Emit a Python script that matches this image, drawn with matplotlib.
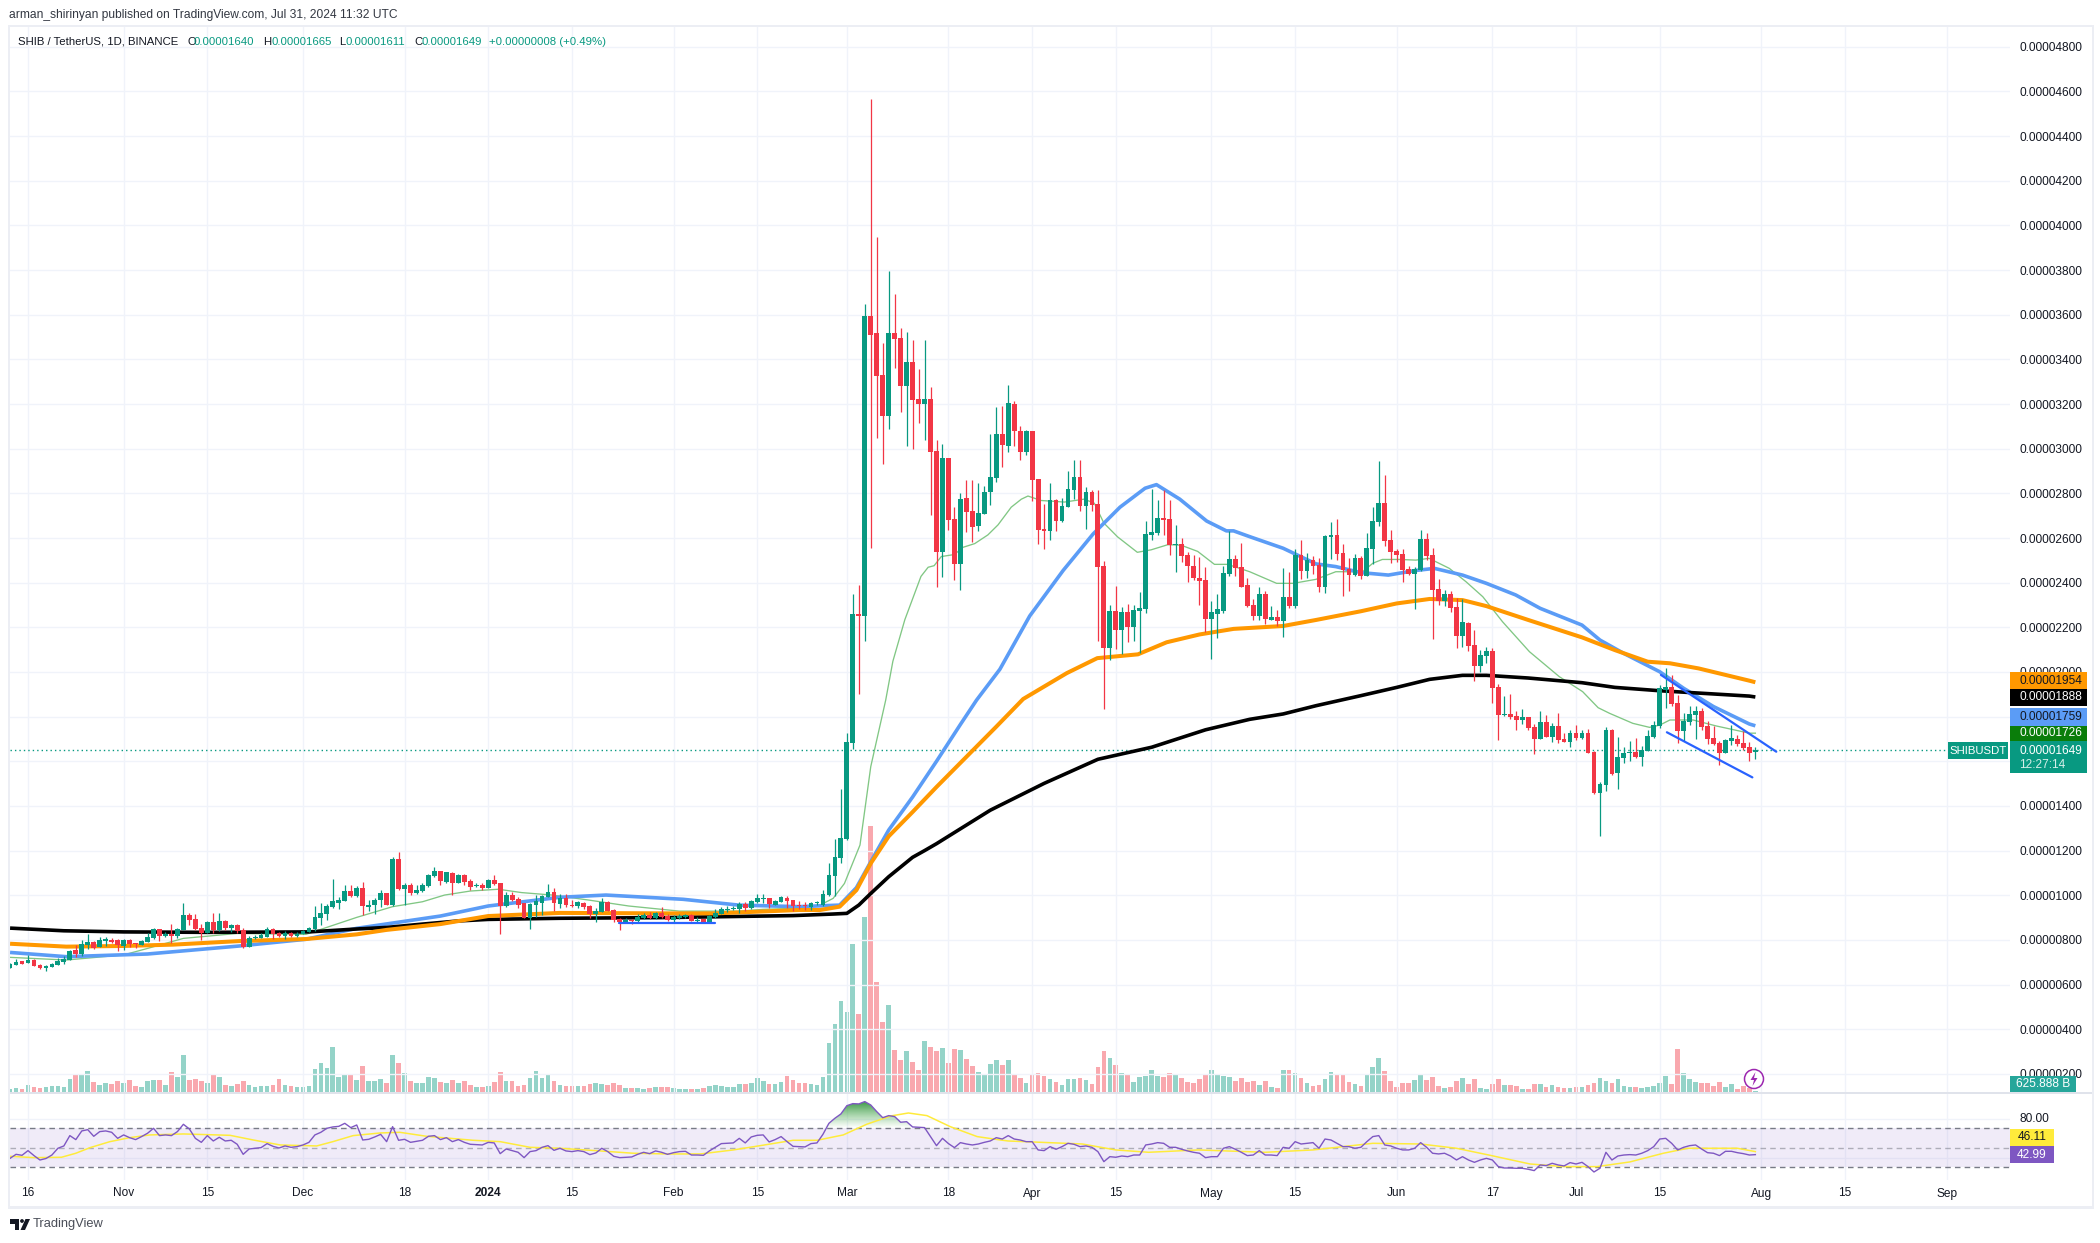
import numpy as np
import matplotlib
matplotlib.use("Agg")
import matplotlib.pyplot as plt
from matplotlib.patches import Rectangle, Circle, Polygon
from matplotlib.transforms import blended_transform_factory

plt.rcParams['font.family'] = ['Liberation Sans', 'DejaVu Sans']

# prices in units of 1e-8 USDT; days counted from 2023-10-16
first_day = -3
opens = [676,688,704,697,710,686,676,680,688,701,
710,755,737,777,791,768,797,800,800,774,
800,786,777,791,809,849,819,827,818,845,
912,894,854,831,880,845,885,854,867,845,
768,810,810,813,849,830,818,830,819,827,
837,849,898,916,949,967,976,1019,997,1033,
948,956,979,1010,956,1163,1028,1045,1010,1019,
1041,1086,1109,1060,1100,1055,1091,1064,1043,1045,
1033,1069,1055,952,1001,983,964,897,956,966,
992,1015,961,988,956,952,965,952,916,925,
971,934,892,879,889,885,898,912,898,921,
907,889,897,903,912,885,892,879,903,916,
934,937,939,961,943,970,983,988,956,970,
988,979,956,956,947,964,958,1001,1087,1168,
1252,1682,2260,2251,3594,3518,3330,3146,3518,3496,
3282,3388,3222,3201,3222,2990,2538,2958,2685,2485,
2777,2720,2652,2708,2804,2869,3066,3013,3201,3077,
2983,3077,2864,2641,2632,2770,2676,2738,2814,2873,
2744,2806,2752,2474,2108,2273,2189,2269,2202,2274,
2283,2614,2623,2689,2685,2568,2574,2524,2476,2423,
2411,2239,2260,2274,2437,2506,2471,2389,2299,2249,
2349,2235,2248,2228,2334,2296,2524,2452,2501,2479,
2381,2604,2613,2533,2461,2434,2510,2430,2551,2672,
2757,2591,2542,2528,2461,2439,2457,2596,2524,2372,
2318,2349,2291,2161,2221,2121,2027,2072,2094,1933,
1807,1812,1803,1785,1798,1754,1700,1776,1709,1758,
1700,1686,1727,1704,1727,1642,1458,1494,1740,1547,
1615,1637,1642,1619,1646,1709,1758,1919,1933,1861,
1736,1776,1807,1825,1758,1704,1682,1637,1691,1700,
1682,1664,1640]
highs = [695,713,705,733,713,694,686,695,718,728,
755,777,800,827,797,812,813,809,803,803,
804,786,800,830,855,849,836,871,855,966,
919,918,871,885,921,919,889,871,871,854,
818,821,830,857,854,837,842,836,836,845,
858,952,965,961,1073,991,1046,1046,1040,1060,
977,988,1024,1010,1172,1194,1054,1057,1045,1057,
1095,1125,1109,1104,1104,1095,1095,1073,1057,1057,
1072,1091,1055,1015,1015,991,964,964,1001,1001,
1050,1033,1006,1006,979,973,970,956,943,988,
974,937,898,898,894,916,921,925,925,947,
916,912,916,916,916,903,895,912,939,946,
952,953,970,970,979,1006,1006,988,979,997,
997,979,974,970,970,974,1023,1143,1252,1476,
1725,2349,2389,3650,4566,3948,3473,3797,3695,3539,
3523,3486,3356,3486,3277,3039,3020,2958,2738,2800,
2862,2862,2848,2832,3066,3186,3190,3286,3213,3101,
3084,3077,2864,2752,2848,2774,2777,2898,2951,2951,
2827,2814,2814,2497,2299,2384,2292,2303,2299,2358,
2676,2820,2770,2814,2770,2659,2600,2538,2522,2517,
2469,2317,2349,2476,2632,2526,2579,2423,2326,2379,
2363,2296,2278,2464,2448,2552,2591,2531,2519,2509,
2613,2672,2685,2573,2510,2528,2519,2622,2739,2945,
2882,2636,2551,2551,2475,2469,2636,2621,2554,2416,
2367,2363,2331,2327,2224,2188,2098,2112,2107,1946,
1892,1901,1825,1834,1798,1767,1825,1807,1771,1816,
1727,1740,1762,1740,1745,1646,1507,1753,1745,1709,
1664,1691,1704,1668,1740,1780,1942,2018,1986,1897,
1816,1848,1848,1839,1780,1758,1691,1700,1762,1718,
1735,1686,1665]
lows = [673,686,691,695,682,671,661,679,686,694,
710,724,728,759,758,767,773,785,750,755,
767,764,776,791,803,795,813,785,810,845,
867,845,801,830,831,842,845,836,833,762,
767,803,809,812,804,815,806,815,813,825,
834,840,867,889,942,939,976,994,994,912,
928,916,949,956,952,1024,956,1001,1006,1015,
1039,1083,1046,1057,1001,1054,1046,1024,1037,1024,
1031,1046,827,946,974,943,897,849,904,912,
991,931,943,949,947,943,939,898,880,924,
930,880,844,874,873,880,894,894,894,898,
885,880,894,898,883,879,877,877,898,915,
925,934,921,930,939,965,965,943,955,968,
943,930,939,934,934,956,950,996,995,1146,
1247,1656,1902,2140,2556,3048,2933,3089,3363,3163,
3013,2999,3116,3039,2703,2382,2425,2637,2412,2368,
2629,2584,2632,2706,2747,2852,2917,2983,3013,2951,
2972,2765,2575,2552,2593,2632,2671,2738,2774,2721,
2641,2721,2140,1835,2055,2101,2079,2136,2140,2087,
2266,2593,2614,2614,2526,2450,2494,2405,2411,2301,
2180,2060,2154,2266,2432,2432,2381,2290,2233,2233,
2214,2233,2207,2157,2287,2287,2416,2421,2439,2358,
2354,2507,2502,2340,2363,2430,2416,2430,2484,2654,
2564,2488,2493,2403,2434,2282,2454,2502,2148,2300,
2295,2269,2107,2112,2094,1960,1999,2040,1861,1695,
1803,1789,1740,1767,1740,1633,1700,1709,1686,1682,
1686,1664,1695,1700,1637,1453,1265,1467,1538,1476,
1592,1601,1615,1579,1646,1704,1749,1839,1848,1682,
1691,1762,1700,1740,1677,1673,1583,1637,1673,1668,
1650,1601,1611]
closes = [691,701,692,710,683,676,682,692,706,715,
751,737,782,791,765,800,804,791,777,800,
782,783,795,813,849,818,825,818,849,912,
889,849,830,880,845,885,855,867,840,767,
809,813,821,849,827,818,830,818,828,840,
852,903,921,952,974,980,1019,997,1033,952,
956,980,1010,956,1163,1028,1048,1010,1024,1048,
1092,1109,1066,1104,1055,1092,1060,1037,1048,1033,
1069,1051,952,1001,979,956,897,961,974,997,
1015,964,988,956,953,970,947,916,930,970,
930,889,880,889,886,903,912,898,921,903,
889,903,907,912,885,889,879,907,921,939,
939,940,961,943,974,988,988,961,974,992,
974,952,952,952,965,968,1005,1090,1171,1256,
1686,2258,2252,3594,3510,3326,3146,3518,3491,3282,
3388,3220,3201,3222,2986,2538,2958,2682,2485,2774,
2717,2650,2712,2804,2871,3066,3018,3204,3077,2983,
3077,2861,2637,2632,2770,2678,2744,2820,2873,2744,
2806,2747,2469,2108,2273,2189,2269,2202,2278,2287,
2618,2627,2689,2680,2570,2574,2520,2476,2423,2409,
2239,2267,2281,2443,2506,2467,2382,2296,2249,2349,
2239,2248,2228,2334,2296,2526,2454,2501,2475,2381,
2609,2613,2528,2457,2434,2510,2430,2555,2676,2757,
2587,2537,2524,2457,2439,2461,2596,2519,2367,2318,
2349,2287,2161,2224,2116,2027,2076,2094,1928,1807,
1812,1798,1785,1798,1749,1700,1776,1709,1758,1695,
1686,1727,1704,1727,1637,1458,1498,1740,1543,1619,
1637,1642,1619,1651,1713,1762,1928,1933,1857,1736,
1780,1812,1825,1754,1700,1677,1637,1695,1704,1677,
1659,1637,1649]
# volume, in units of 500 B
volume = [3,4,3,7,5,4.3,5,6,6,5,
13,17,17,21,10,7,9,8,11,9,
12,6,5,11,12,12,7,20,15,37,
12,13,11,9,17,15,7,6,8,11,
7,5,6,6,7,13,7,6,5,5,
6,23,29,24,45,15,17,17,12,26,
11,11,13,9,37,29,19,11,9,9,
15,14,10,9,12,9,11,7,5,5,
6,10,20,11,11,6,7,14,21,14,
17,11,7,6,6,6,6,8,9,8,
7,9,7,4,4,4,3,4,5,5,
5,4,3,3,3,3,4,6,7,6,
5,5,8,8,9,14,11,8,8,10,
16,12,9,9,8,7,15,49,68,91,
80,148,78,175,266,110,70,87,42,32,
41,30,22,51,45,41,44,29,43,42,
33,26,20,17,28,32,27,32,17,14,
9,18,19,16,13,10,7,13,13,14,
12,8,25,41,34,27,19,17,10,15,
16,22,16,15,19,18,14,10,9,13,
17,22,18,16,15,11,14,10,11,7,
11,5,4,22,22,19,14,9,6,7,
13,20,17,17,10,8,6,17,25,34,
21,11,5,9,9,12,17,12,15,6,
4,5,11,14,8,13,4,3,8,13,
7,7,6,3,3,8,8,5,7,5,
4,4,5,5,7,9,14,11,9,13,
6,5,5,4,5,6,9,16,8,43,
19,13,10,9,9,6,10,5,8,3,
6,4,1.25]

black_days = [-3,6,16,30,47,55,60,66,72,77,89,106,128,134.7,137,139,141,144,148,150,152,161,170,179,188,197,204.4,210,215.5,223,229,234.5,240,244,251,260,265.5,273,288,289]
black_vals = [853,841,836,834,836,849,856,871,885,892,897,900,909,916,919,956,1008,1083,1170,1200,1231,1381,1501,1609,1663,1741,1788,1812,1849,1894,1931,1967,1985,1985,1973,1952,1931,1916,1892,1888]
orange_days = [-3,6.4,16,24.3,35.4,46.5,55,60,69,77,89,106,115,129,132.5,135.8,138.6,141,144,148,152,157,162,166.5,173.8,178.9,185.7,190.5,196,201.7,210,215.5,223,229,234.5,240,244,251,260,265.5,271,274.7,279.5,288,289]
orange_vals = [783,770,773,779,795,804,825,845,871,907,921,919,919,934,934,949,1023,1143,1264,1373,1485,1620,1755,1879,1995,2062,2079,2133,2168,2193,2206,2233,2272,2307,2327,2322,2295,2233,2155,2098,2046,2039,2016,1961,1954]
blue_days = [-3,6.4,20,35.4,46.5,55,69,77,89,96.7,109.6,118.9,129,135.8,138.6,141,144,148,152,156,158.7,162.6,167.6,173.2,178.2,182.7,186.9,188.8,192.7,197.2,200.5,201.7,204.4,210,215.5,218.8,223,227.6,232,235.3,240,244,248.9,253,260,263,267,273,277,282,288,289]
blue_vals = [744,725,737,773,803,852,907,952,991,1001,982,956,949,956,1034,1150,1292,1440,1600,1765,1874,2012,2251,2455,2618,2738,2823,2839,2774,2676,2632,2632,2606,2554,2484,2472,2445,2434,2454,2464,2434,2397,2345,2285,2210,2143,2083,2001,1927,1845,1767,1759]
green_days = [-3,6.4,16,20,26,35,46.5,55,61,66,69.7,74,78.7,82.6,87.7,93.7,100.5,109,119,123,129,132.5,134.7,136.6,139.2,141,143.5,144.7,146.7,149.4,150.6,151.6,152.8,155,156.4,158.4,160.6,162.3,164.5,166.2,167.3,169.5,173.4,176.7,178.4,180,182.3,185.6,187.9,190.7,192.9,195.7,198.5,200.7,204.4,208.9,211.7,215.5,218.8,223.3,225,226.6,229.4,232.2,234.4,237.8,240.6,243.4,246.7,251.2,256.2,260.1,262.7,264.6,268.5,271.3,273,274.7,278.6,282.5,288,289]
green_vals = [722,710,733,762,807,829,825,901,949,971,1001,1019,1027,1012,1001,979,952,929,929,937,942,956,986,1053,1225,1576,1874,2048,2234,2428,2469,2476,2517,2526,2558,2575,2614,2659,2738,2774,2788,2768,2761,2774,2756,2667,2605,2536,2547,2570,2568,2540,2482,2482,2449,2397,2397,2415,2449,2449,2487,2504,2504,2501,2509,2464,2404,2337,2225,2091,1979,1912,1840,1815,1770,1752,1762,1785,1785,1758,1726,1726]

rsi = [39.2,43.3,42.3,47.1,42,37.5,39,42.6,49.5,51.9,
62.5,58.4,67.3,68.6,61.8,66.6,67.3,65.9,59.7,63.2,
60.4,58.4,61.5,64.9,70,62.5,63.2,62.5,66.6,74.1,
69.3,59.7,55.6,62.5,57,60.8,57,57.7,53.6,43.3,
48.8,49.5,50.2,54.3,51.5,49.8,51.9,50.5,51.2,52.9,
55.6,63.2,65.9,70,71.4,72,75.1,70.7,73.4,58,
58.7,61.1,63.8,56.3,71.7,57.7,58.7,55.6,56.7,57.7,
61.8,62.5,58.4,60.4,56.3,58.4,55.6,53.6,53.2,52.9,
55.6,55,44,48.8,47.1,45.4,39.9,46.1,47.1,50.5,
52.2,47.4,49.5,46.8,46.1,47.1,46.1,43,44.7,49.5,
46.1,41.3,39.9,40.3,40.6,43.3,45.4,44,46.8,45.4,
43.3,45,46.1,46.4,42.6,42.6,42.3,46.8,50.5,54.3,
54.6,55,59.7,55,61.1,62.8,63.2,56,58.4,61.5,
56.3,51.5,51.2,50.9,54.3,55,63.8,75.1,80.3,84.7,
93.2,95.3,95,97.4,93.9,87.1,80.9,83,82,76.2,
76.8,71.4,71,70.7,61.5,52.2,59.7,54.3,50.2,55.3,
53.9,52.9,53.9,55.6,57,60.4,59,62.5,59,58,
56.3,56.3,47.8,47.1,51.2,48.5,51.2,54.6,53.6,51.2,
51.9,50.5,46.1,35.8,40.9,40.3,41.6,40.9,42.6,42.6,
52.9,53.9,55.3,54.6,50.5,50.5,48.5,46.8,45.4,44.4,
39.9,40.9,40.9,49.5,51.2,48.5,45.4,42,42.6,47.1,
42.6,42.6,42,50.5,49.5,56.3,53.9,54.6,55.3,49.5,
59,58,54.6,51.2,51.2,49.5,50.5,56.3,61.5,62.5,
52.9,51.9,49.5,47.8,47.8,49.5,55.3,50.5,44.4,43.7,
44.4,41.6,37.5,40.9,37.5,35.1,37.5,39.2,37.5,30.7,
29.3,29.3,29,29,28,26.6,32.4,31.7,34.1,32.4,
31.4,34.8,33.4,35.1,30.7,25.2,29,45.4,37.5,41.6,
42.6,43,42.6,44.4,47.1,51.2,59,59.7,54.6,47.8,
50.5,52.2,52.9,48.8,45,44.4,42,46.4,46.4,45,
44,42.6,42.99]
rsi_ma_days = [-3,1,5.6,8,10.4,13.7,17,20.4,26,33.8,37.7,42.2,48.3,51,54.4,58.9,62.2,66.7,74.5,79,84,89,95.7,101.3,106.9,112.5,118,122.5,128,132,136.4,140.3,144.3,147.3,150.4,154.3,158.8,162.7,164,176.4,182,187.5,195.8,207,215,225,233,239,244.4,251.3,257,262.5,268,273.6,277.7,286,289]
rsi_ma_vals = [41.3,39.9,40.3,44.4,50.2,56.3,60.4,63.2,64.2,62.8,58,52.9,51.9,56.3,62.5,65.2,65.9,61.8,57.7,56.3,50.5,49.5,46.8,44.4,43.7,43.7,47.8,52.2,57.7,57.7,63.2,74.1,82.6,85.7,83,71.7,61.5,58,57,53.9,47.8,45.4,47.8,45.4,47.8,54.6,53.9,49.5,42.6,33.4,30.7,30.7,35.5,44.4,49.5,49.5,46.11]

price_ticks = list(range(200, 4801, 200))
time_days = [0,16,30,46,63,77,91,108,122,137,154,168,182,198,212,229,245,259,273,290,304,321]
time_labels = ['16','Nov','15','Dec','18','2024','15','Feb','15','Mar','18','Apr','15','May','15','Jun','17','Jul','15','Aug','15','Sep']

trend_upper_days = [273.2, 292.5]
trend_upper_vals = [1987, 1643]
trend_lower_days = [274.2, 288.5]
trend_lower_vals = [1730, 1528]
flat_days = [98.8, 114.9]
flat_vals = [877, 877]

UP, DOWN = '#089981', '#f23645'
W, H = 2100, 1243
GRID = '#f0f3fa'
TXT = '#131722'

fig = plt.figure(figsize=(21, 12.43), dpi=100, facecolor='white')
def axes_px(l, r, t, b):
    return fig.add_axes([l/W, 1-b/H, (r-l)/W, (b-t)/H])

L, R = 10, 2010
xlim = ((L-28)/5.977, (R-28)/5.977)
ax = axes_px(L, R, 27, 1092)
ax.set_xlim(*xlim)
ax.set_ylim(119, 4888.5)
vax = ax.twinx()
vax.set_ylim(0, 1065)
vax.set_yticks([])
ax.set_zorder(2); vax.set_zorder(1)
ax.patch.set_visible(False)

days = np.arange(len(opens)) + first_day
o, h, l, c = map(np.array, (opens, highs, lows, closes))
up = c >= o
cols = np.where(up, UP, DOWN)

for t in time_days:
    ax.axvline(t, color=GRID, lw=1.0, zorder=0)
ax.set_yticks(price_ticks)
ax.set_yticklabels([f'{p/1e8:.8f}' for p in price_ticks], fontsize=8.6, color=TXT)
ax.yaxis.tick_right()
ax.tick_params(axis='y', length=0, pad=6.5)
ax.set_xticks([])
ax.grid(axis='y', color=GRID, lw=1.0, zorder=0)
ax.set_axisbelow(True)
for a in (ax, vax):
    for s in a.spines.values():
        s.set_visible(False)

vax.bar(days, volume, width=0.78, color=cols, alpha=0.43, linewidth=0)

ax.plot(green_days, green_vals, color='#81c784', lw=0.95, zorder=3)
ax.plot(blue_days, blue_vals, color='#5b9cf6', lw=2.6, zorder=3, solid_capstyle='butt')
ax.plot(orange_days, orange_vals, color='#ff9800', lw=2.9, zorder=3.1, solid_capstyle='butt')
ax.plot(black_days, black_vals, color='#000000', lw=2.6, zorder=3, solid_capstyle='butt')

ax.vlines(days, l, h, colors=cols, lw=0.9, zorder=4)
ax.bar(days, np.maximum(np.abs(c-o), 5), bottom=np.minimum(o, c), width=0.8, color=cols, linewidth=0, zorder=4.1)

for dx, vy in ((trend_upper_days, trend_upper_vals), (trend_lower_days, trend_lower_vals), (flat_days, flat_vals)):
    ax.plot(dx, vy, color='#2962ff', lw=1.6, zorder=5, solid_capstyle='round')
ax.axhline(closes[-1], color=UP, lw=1.0, ls=(0, (1, 2.2)), zorder=2)

rax = axes_px(L, R, 1093, 1180)
rax.set_xlim(*xlim)
rax.set_ylim(70-(1180-1128.3)/0.975, 70-(1093-1128.3)/0.975)
rax.patch.set_visible(False)
for s in rax.spines.values():
    s.set_visible(False)
rax.set_xticks([]); rax.set_yticks([])
for t in time_days:
    rax.axvline(t, color=GRID, lw=1.0, zorder=0)
for g in (80, 40):
    rax.axhline(g, color=GRID, lw=1.0, zorder=0)
rax.axhspan(30, 70, color='#7e57c2', alpha=0.115, lw=0, zorder=0.5)
for g, al in ((70, 1), (50, 0.55), (30, 1)):
    rax.axhline(g, color='#787b86', lw=1.0, alpha=al, ls=(0, (4, 3)), zorder=1)
rdays = np.arange(len(rsi)) + first_day
rarr = np.array(rsi)
grad = rax.imshow(np.linspace(0, 1, 100).reshape(-1, 1), extent=(xlim[0], xlim[1], 70, 98), origin='lower', aspect='auto',
                  cmap=matplotlib.colors.LinearSegmentedColormap.from_list('g', [(0.3,0.69,0.31,0.0),(0.15,0.55,0.2,0.95)]), zorder=1.5)
poly_d = rdays[(rdays >= 133) & (rdays <= 150)]
poly_v = np.maximum(rarr[(rdays >= 133) & (rdays <= 150)], 70)
clip = Polygon(np.column_stack([np.r_[poly_d, poly_d[::-1]], np.r_[poly_v, np.full(len(poly_v), 70)]]), transform=rax.transData)
grad.set_clip_path(clip)
rax.set_xlim(*xlim)
rax.set_ylim(70-(1180-1128.3)/0.975, 70-(1093-1128.3)/0.975)
rax.plot(rsi_ma_days, rsi_ma_vals, color='#ffeb3b', lw=1.1, zorder=3)
rax.plot(rdays, rsi, color='#7e57c2', lw=1.0, zorder=4)

# time labels
tr = blended_transform_factory(rax.transData, fig.transFigure)
for t, lab in zip(time_days, time_labels):
    rax.text(t, 1-1193.5/H, lab, transform=tr, ha='center', va='center', fontsize=8.6, color=TXT,
             fontweight='bold' if lab == '2024' else 'normal', clip_on=False)

# figure-level furniture (pixels)
def box(x0, y0, x1, y1, color, z=10, **kw):
    fig.add_artist(Rectangle((x0/W, 1-y1/H), (x1-x0)/W, (y1-y0)/H, transform=fig.transFigure, facecolor=color, edgecolor='none', zorder=z, **kw))
def txt(x, y, s, color=TXT, size=8.6, ha='left', z=11, **kw):
    fig.text(x/W, 1-y/H, s, color=color, fontsize=size, ha=ha, va='center', zorder=z, **kw)

FR = '#eceef4'
box(8, 25, 2094, 27, FR, z=1)
box(8, 1206, 2094, 1209, FR, z=1)
box(8, 25, 10, 1209, FR, z=1)
box(2092, 25, 2094, 1209, FR, z=1)
box(10, 1092, 2092, 1094, '#e0e3eb', z=1)

txt(9, 15, 'arman_shirinyan published on TradingView.com, Jul 31, 2024 11:32 UTC', color='#333842', size=8.65)
txt(18, 42, 'SHIB / TetherUS, 1D, BINANCE', size=8.2)
for xl, lab, xv, val in ((187, 'O', 194, '0.00001640'), (263, 'H', 271, '0.00001665'), (339, 'L', 346, '0.00001611'), (414, 'C', 422, '0.00001649')):
    txt(xl, 42, lab, size=8.2)
    txt(xv, 42, val, color=UP, size=8.2)
txt(489, 42, '+0.00000008 (+0.49%)', color=UP, size=8.2)

# price tags
tags = [(672, 689, '#ff9800', TXT, '0.00001954'), (689, 706, '#000000', 'white', '0.00001888'),
        (708, 725.5, '#5b9cf6', TXT, '0.00001759'), (725.5, 741, '#0a7d0a', 'white', '0.00001726')]
for y0, y1, bg, fg, s in tags:
    box(2010, y0, 2087, y1, bg)
    txt(2019, (y0+y1)/2, s, color=fg)
box(2010, 741, 2087, 773, UP)
txt(2019, 750.5, '0.00001649', color='white')
txt(2019, 764.5, '12:27:14', color='#d5efe9')
box(1948, 742, 2008, 759, UP)
txt(1978, 750.5, 'SHIBUSDT', color='white', ha='center', size=8.2)
box(2010, 1076, 2076, 1092, '#26a69a')
txt(2043, 1084, '625.888 B', color='white', ha='center')
txt(2019, 1118.5, '80.00')
box(2010, 1129, 2054, 1146, '#ffeb3b')
txt(2032, 1137.5, '46.11', ha='center')
box(2010, 1146, 2054, 1163, '#7e57c2')
txt(2032, 1154.5, '42.99', color='white', ha='center')

bax = fig.add_axes([0, 0, 1, 1], zorder=12)
bax.set_xlim(0, W); bax.set_ylim(H, 0); bax.axis('off'); bax.patch.set_visible(False)
# lightning badge
bax.add_patch(Circle((1754, 1079), 9.5, facecolor='white', edgecolor='#9c27b0', lw=1.1))
bax.add_patch(Polygon([(1755.5, 1072), (1750.5, 1080), (1754, 1080), (1752.5, 1086), (1757.5, 1078), (1754, 1078)], facecolor='#9c27b0', edgecolor='none'))
# TradingView logo
logo = '#131722'
bax.add_patch(Polygon([(10, 1219), (19, 1219), (19, 1230), (14.5, 1230), (14.5, 1223.5), (10, 1223.5)], facecolor=logo, edgecolor='none'))
bax.add_patch(Circle((22, 1221), 1.9, facecolor=logo, edgecolor='none'))
bax.add_patch(Polygon([(25.5, 1219), (30, 1219), (25, 1230), (20.5, 1230)], facecolor=logo, edgecolor='none'))
txt(33, 1224.5, 'TradingView', color='#4a4e58', size=9.3)

fig.savefig('out.png', dpi=100, facecolor='white')
